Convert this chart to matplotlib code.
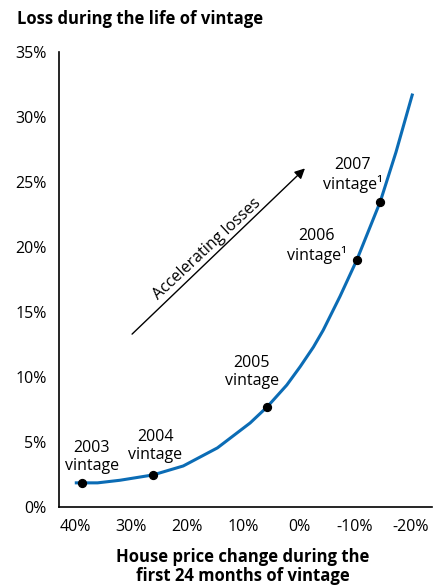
import matplotlib
matplotlib.use("Agg")
import matplotlib.pyplot as plt

plt.rcParams['font.family'] = ['Open Sans', 'DejaVu Sans']

# house price change over first 24 months (%), loss over vintage life (%)
curve_hpa = [39.8, 36.0, 32.0, 26.1, 20.7, 14.6, 8.75, 5.7, 2.2, -0.2, -2.55, -4.3, -7.3, -10.3, -14.5, -17.3, -20.2]
curve_loss = [1.85, 1.85, 2.05, 2.46, 3.15, 4.54, 6.46, 7.7, 9.38, 10.8, 12.3, 13.6, 16.2, 19.0, 23.5, 27.3, 31.7]

vintages = ['2003\nvintage', '2004\nvintage', '2005\nvintage', '2006\nvintage\u00b9', '2007\nvintage\u00b9']
vintage_hpa = [38.75, 26.1, 5.7, -10.3, -14.5]
vintage_loss = [1.85, 2.46, 7.7, 19.0, 23.5]

yticks = [0, 5, 10, 15, 20, 25, 30, 35]
xticks = [40, 30, 20, 10, 0, -10, -20]

fig = plt.figure(figsize=(4.4, 5.86), dpi=100)
ax = fig.add_axes([0.134, 0.135, 0.848, 0.776])

ax.plot(curve_hpa, curve_loss, color='#0b6cb5', lw=2.2, zorder=2)
ax.scatter(vintage_hpa, vintage_loss, s=32, color='black', zorder=3)

# label offsets in points (dx, dy) for each vintage, text centred there
offsets = [(7, 18.5), (1.5, 21), (-11, 25), (-29, 10), (-20, 19)]
for name, x, y, (dx, dy) in zip(vintages, vintage_hpa, vintage_loss, offsets):
    ax.annotate(name, (x, y), xytext=(dx, dy), textcoords='offset points',
                ha='center', va='center', fontsize=11.5, linespacing=1.15)

ax.annotate('', xy=(-1.4, 26.2), xytext=(30.2, 13.15),
            arrowprops=dict(arrowstyle='-|>', color='black', lw=1, mutation_scale=15))
ax.text(16.4, 19.85, 'Accelerating losses', rotation=43, ha='center', va='center', fontsize=11.5)

ax.set_xlim(42.9, -23.75)
ax.set_ylim(0, 35)
ax.set_xticks(xticks)
ax.set_xticklabels(['%d%%' % v for v in xticks], fontsize=11.5)
ax.set_yticks(yticks)
ax.set_yticklabels(['%d%%' % v for v in yticks], fontsize=11.5)
ax.tick_params(length=0, pad=9)
for s in ['top', 'right']:
    ax.spines[s].set_visible(False)
for s in ['left', 'bottom']:
    ax.spines[s].set_linewidth(1.2)

fig.text(0.039, 0.968, 'Loss during the life of vintage', fontsize=12, fontweight='bold', va='center')
fig.text(0.552, 0.033, 'House price change during the\nfirst 24 months of vintage',
         fontsize=12, fontweight='bold', ha='center', va='center', linespacing=1.05)

fig.savefig('out.png', dpi=100)
